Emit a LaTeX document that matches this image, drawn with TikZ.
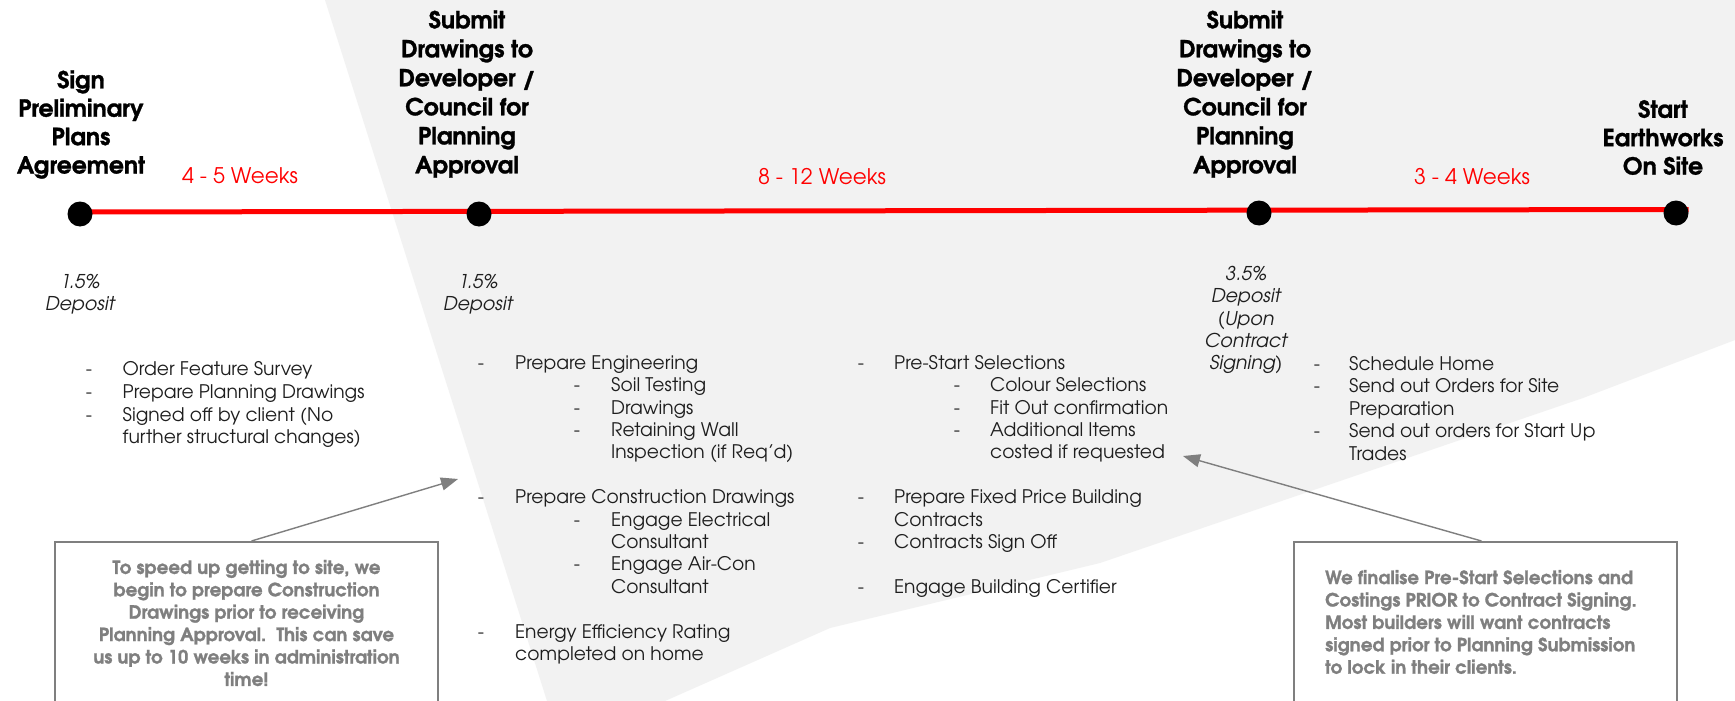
\documentclass[tikz,border=0pt]{standalone}
\usepackage{fontspec}
\setmainfont{TeX Gyre Adventor}[BoldFeatures={FakeBold=1.2}]
\usetikzlibrary{arrows.meta}
\pgfdeclarelayer{bg}
\pgfsetlayers{bg,main}
\definecolor{bggray}{HTML}{F2F2F2}
\definecolor{notegray}{HTML}{7F7F7F}
\definecolor{ink}{HTML}{1E1E1E}
\definecolor{tlred}{HTML}{FF0000}
\begin{document}
\begin{tikzpicture}[x=1pt,y=-1pt,
  head/.style={font=\bfseries\fontsize{23.5}{28.4}\selectfont, align=center, text=black, inner sep=0pt},
  tallhead/.style={head, font=\bfseries\fontsize{23.5}{29}\selectfont},
  weeks/.style={font=\fontsize{21.5}{25}\selectfont, text=tlred, inner sep=0pt, anchor=mid},
  dep/.style={font=\itshape\fontsize{19}{22.3}\selectfont, align=center, text=ink, inner sep=0pt},
  itm/.style={font=\fontsize{18.7}{22.5}\selectfont, text=ink, anchor=mid west, inner sep=0pt},
  hyph/.style={font=\fontsize{18.7}{22.5}\selectfont, text=ink, anchor=mid, inner sep=0pt},
  dot/.style={circle, fill=black, minimum size=25pt, inner sep=0pt},
  note/.style={draw=notegray, line width=2pt, minimum width=383pt, minimum height=200pt, anchor=north, inner sep=0pt},
  notetext/.style={text=notegray, font=\bfseries\fontsize{18.3}{22.4}\selectfont, inner sep=0pt},
  arr/.style={draw=notegray, line width=1.4pt, -{Triangle[length=17pt,width=13pt]}}
]
\useasboundingbox (0,0) rectangle (1735,701);
\begin{pgfonlayer}{bg}
\fill[white] (0,0) rectangle (1735,701);
\fill[bggray] (325,0) -- (1735,0) -- (1735,340) -- (1583,398) -- (1100,563) -- (830,628) -- (665,701) -- (547,701) -- cycle;
\end{pgfonlayer}

% milestones
\node[dot] (c1) at (80,214) {};
\node[dot] (c2) at (479,214) {};
\node[dot] (c3) at (1259,213) {};
\node[dot] (c4) at (1676,213) {};
\begin{pgfonlayer}{bg}
\draw[tlred, line width=5pt] ([yshift=2pt]c1.center) -- ([yshift=3.5pt]c4.east);
\end{pgfonlayer}

% headings
\node[head] (h1) at (81,124.5) {Sign\\Preliminary\\Plans\\Agreement};
\node[tallhead] (h2) at (467,94) {Submit\\Drawings to\\Developer /\\Council for\\Planning\\Approval};
\node[tallhead] (h3) at (1245,94) {Submit\\Drawings to\\Developer /\\Council for\\Planning\\Approval};
\node[head] (h4) at (1663,137.5) {Start\\Earthworks\\On Site};

% durations
\node[weeks] (w1) at (240,180.5) {4 - 5 Weeks};
\node[weeks] (w2) at (822,181.5) {8 - 12 Weeks};
\node[weeks] (w3) at (1472,182) {3 - 4 Weeks};

% deposits
\node[dep] (p1) at (80,294) {1.5\%\\Deposit};
\node[dep] (p2) at (478,294) {1.5\%\\Deposit};
\node[dep] (p3) at (1246,320) {3.5\%\\Deposit\\(Upon\\Contract\\Signing)};

% list texts
\begin{scope}[yshift=-5.5pt]
\foreach \x/\y/\t [count=\i] in {
  122.5/367/Order Feature Survey,
  122.5/390/Prepare Planning Drawings,
  122.5/413/Signed off by client (No,
  122.5/435/further structural changes),
  515/361/Prepare Engineering,
  611/383/Soil Testing,
  611/406/Drawings,
  611/428/Retaining Wall,
  611/450/Inspection (if Req'd),
  515/495/Prepare Construction Drawings,
  611/518/Engage Electrical,
  611/540/Consultant,
  611/562/Engage Air-Con,
  611/585/Consultant,
  515/630/Energy Efficiency Rating,
  515/652/completed on home,
  894/361/Pre-Start Selections,
  990/383/Colour Selections,
  990/406/Fit Out confirmation,
  990/428/Additional Items,
  990/450/costed if requested,
  894/495/Prepare Fixed Price Building,
  894/518/Contracts,
  894/540/Contracts Sign Off,
  894/585/Engage Building Certifier,
  1349/362/Schedule Home,
  1349/384/Send out Orders for Site,
  1349/407/Preparation,
  1349/429/Send out orders for Start Up,
  1349/452/Trades}
  \node[itm] (li\i) at (\x,\y) {\t};

% bullets
\foreach \x/\y [count=\i] in {
  89/367, 89/390, 89/413,
  481/361, 577/383, 577/406, 577/428, 481/495, 577/518, 577/562, 481/630,
  861/361, 957/383, 957/406, 957/428, 861/495, 861/540, 861/585,
  1317/362, 1317/384, 1317/429}
  \node[hyph] (b\i) at (\x,\y) {-};
\end{scope}

% notes
\node[note] (box1) at (246.5,541) {};
\node[note] (box2) at (1485.5,541) {};
\node[notetext, align=center] (n1) at (246.5,623) {To speed up getting to site, we\\begin to prepare Construction\\Drawings prior to receiving\\Planning Approval.\ \ This can save\\us up to 10 weeks in administration\\time!};
\node[notetext, align=left, anchor=west] (n2) at (1325,622) {We finalise Pre-Start Selections and\\Costings PRIOR to Contract Signing.\\Most builders will want contracts\\signed prior to Planning Submission\\to lock in their clients.};

\coordinate (t1) at (458,479);
\coordinate (t2) at (1183,456);
\draw[arr] ([xshift=5pt]box1.north) -- (t1);
\draw[arr] ([xshift=-4pt]box2.north) -- (t2);
\end{tikzpicture}
\end{document}
